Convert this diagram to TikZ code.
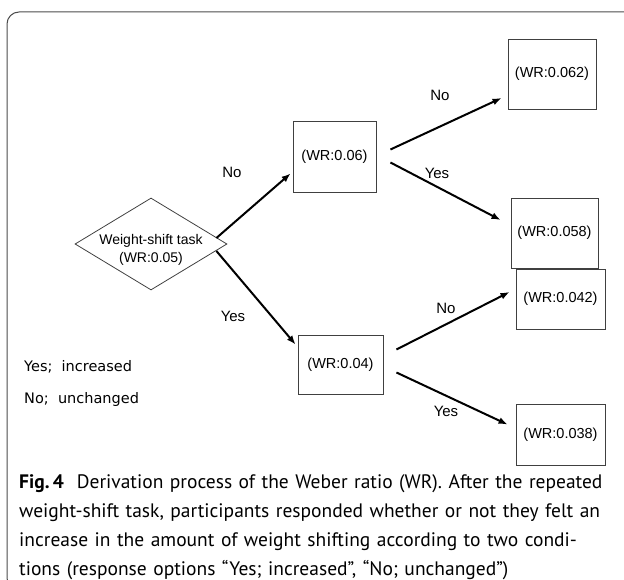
\documentclass[tikz,border=0pt]{standalone}
\usepackage{fontspec}
\setmainfont{Liberation Sans}
\newfontfamily\capfont{PT Sans}
\newfontfamily\legfont{DejaVu Sans}
\usetikzlibrary{shapes.geometric,arrows.meta}
\tikzset{
  wrbox/.style={draw=black!75, line width=0.9pt, rectangle, inner sep=0pt, font=\fontsize{14.5}{17}\selectfont},
  decide/.style={draw=black!75, line width=0.8pt, diamond, aspect=1.65, inner sep=0pt},
  decidetext/.style={align=center, inner sep=0pt, font=\fontsize{14}{18}\selectfont},
  arr/.style={line width=2pt, -{Latex[length=9pt,width=7pt]}},
  lbl/.style={font=\fontsize{15}{17}\selectfont, inner sep=0pt},
  legend/.style={font=\legfont\fontsize{14.5}{17}\selectfont, anchor=west, inner sep=0pt},
}
\begin{document}
\begin{tikzpicture}[x=1pt,y=-1pt]
\useasboundingbox (0,0) rectangle (624,580);
% frame
\draw[draw=black!70, line width=1pt, rounded corners=12pt] (7,12) rectangle (640,590);
% diamond
\node[decide, minimum width=152pt, minimum height=92pt] (task) at (151,244) {};
\node[decidetext] (tasktext) at ([shift={(0,6)}]task.center) {Weight-shift task\\(WR:0.05)};
% boxes
\node[wrbox, minimum width=83pt, minimum height=71pt] (b06) at (334.5,156.5) {(WR:0.06)};
\node[wrbox, minimum width=88pt, minimum height=70pt] (b062) at (552,74) {(WR:0.062)};
\node[wrbox, minimum width=87pt, minimum height=70pt] (b058) at (554.5,233) {\raisebox{-6pt}{(WR:0.058)}};
\node[wrbox, minimum width=85pt, minimum height=59pt] (b04) at (340.5,364.5) {(WR:0.04)};
\node[wrbox, minimum width=89pt, minimum height=60pt] (b042) at (560.5,299) {(WR:0.042)};
\node[wrbox, minimum width=89pt, minimum height=61pt] (b038) at (560.5,434.5) {\raisebox{-6pt}{(WR:0.038)}};
% arrows
\draw[arr] ([shift={(-11,-6)}]task.east) -- ([shift={(-2,17)}]b06.west);
\draw[arr] ([shift={(-11,7)}]task.east) -- ([shift={(-2,-20)}]b04.west);
\draw[arr] ([shift={(14,-7)}]b06.east) -- ([shift={(-6,24)}]b062.west);
\draw[arr] ([shift={(14,6)}]b06.east) -- ([shift={(-10,-13)}]b058.west);
\draw[arr] ([shift={(13,-15)}]b04.east) -- ([shift={(-6,-7)}]b042.west);
\draw[arr] ([shift={(13,8)}]b04.east) -- ([shift={(-8,-10)}]b038.west);
% labels
\node[lbl] (l1) at (232,172) {No};
\node[lbl] (l2) at (233,316) {Yes};
\node[lbl] (l3) at (440,95) {No};
\node[lbl] (l4) at (437,173) {Yes};
\node[lbl] (l5) at (446,308) {No};
\node[lbl] (l6) at (446,411) {Yes};
% legend
\node[legend] (leg1) at (24,367) {Yes;\ \ increased};
\node[legend] (leg2) at (24,399) {No;\ \ unchanged};
% caption
\node[anchor=base west, inner sep=0pt, text width=588pt, font=\capfont\fontsize{19.5}{29}\selectfont] (cap) at (19,488)
{\textbf{Fig.\,4}\ \ Derivation process of the Weber ratio (WR). After the repeated\linebreak
weight-shift task, participants responded whether or not they felt an\linebreak
increase in the amount of weight shifting according to two condi-\linebreak
tions (response options “Yes; increased”, “No; unchanged”)};
\end{tikzpicture}
\end{document}
